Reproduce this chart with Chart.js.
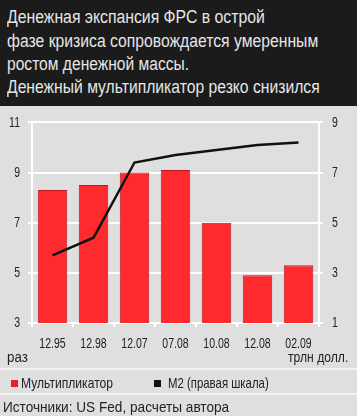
<!DOCTYPE html>
<html><head><meta charset="utf-8">
<script src="https://cdn.jsdelivr.net/npm/chart.js@4"></script>
<style>
html,body{margin:0;padding:0;}
body{width:357px;height:416px;background:#dfdfdf;position:relative;overflow:hidden;font-family:"Liberation Sans",Arial,sans-serif;}
#hdr{position:absolute;left:0;top:0;width:357px;height:106px;background:#1b1b1b;}
.h{position:absolute;left:7px;color:#e6e6e6;font-size:18px;line-height:20px;white-space:nowrap;}
.fit{transform-origin:0 0;}
#cw{position:absolute;left:0;top:105px;width:357px;height:265px;}
.t{position:absolute;color:#222;font-size:14px;line-height:16px;white-space:nowrap;}
.sep{position:absolute;left:0;width:357px;height:2px;background:#f3f3f3;}
.sq{position:absolute;width:7px;height:7px;}
</style></head><body>
<div id="hdr">
<div class="h fit" data-w="258" style="top:7px">Денежная экспансия ФРС в острой</div>
<div class="h fit" data-w="311" style="top:31px">фазе кризиса сопровождается умеренным</div>
<div class="h fit" data-w="182" style="top:54px">ростом денежной массы.</div>
<div class="h fit" data-w="313" style="top:77px">Денежный мультипликатор резко снизился</div>
</div>
<div id="cw"><canvas id="c" width="357" height="265"></canvas></div>
<div class="t fit" data-w="21" style="left:7px;top:349px">раз</div>
<div class="t fit" data-w="60" style="left:288px;top:349px">трлн долл.</div>
<div class="sep" style="top:368px"></div>
<div class="sq" style="left:11px;top:380px;background:#e8202c"></div>
<div class="t fit" data-w="92" style="left:21px;top:374px;font-size:15px;line-height:17px">Мультипликатор</div>
<div class="sq" style="left:154px;top:380px;background:#111"></div>
<div class="t fit" data-w="101" style="left:168px;top:374px;font-size:15px;line-height:17px">M2 (правая шкала)</div>
<div class="sep" style="top:393px"></div>
<div class="t fit" data-w="226" style="left:3px;top:398px;font-size:15px;line-height:17px">Источники: US Fed, расчеты автора</div>
<script>
const categories = ["12.95","12.98","12.07","07.08","10.08","12.08","02.09"];
const multiplier = [8.3, 8.5, 9.0, 9.1, 7.0, 4.9, 5.3];
const m2 = [3.7, 4.4, 7.4, 7.7, 7.9, 8.1, 8.2];
const leftTicks = [3,5,7,9,11];
const rightTicks = [1,3,5,7,9];

document.querySelectorAll('.fit').forEach(el=>{
  const w = el.scrollWidth;
  const target = +el.dataset.w;
  el.style.transform = 'scaleX(' + (target / w) + ')';
});

const FONTSTR = '15px "Liberation Sans", Arial, sans-serif';
const SX = 0.7;
function txt(ctx, s, x, y, align, base){
  ctx.save();
  ctx.font = FONTSTR;
  ctx.fillStyle = '#222';
  ctx.textBaseline = base;
  const w = ctx.measureText(s).width * SX;
  let x0 = x;
  if(align === 'center') x0 = x - w/2;
  else if(align === 'right') x0 = x - w;
  ctx.translate(x0, y);
  ctx.scale(SX, 1);
  ctx.textAlign = 'left';
  ctx.fillText(s, 0, 0);
  ctx.restore();
}
const labelPlugin = {
  id:'labels',
  afterDraw(chart){
    const ctx = chart.ctx, ca = chart.chartArea;
    const xs = chart.scales.x, y1 = chart.scales.y, y2 = chart.scales.y2;
    categories.forEach((c,i)=> txt(ctx, c, xs.getPixelForTick(i), ca.bottom + 25, 'center', 'alphabetic'));
    leftTicks.forEach(v=> txt(ctx, String(v), ca.left - 12, y1.getPixelForValue(v), 'right', 'middle'));
    rightTicks.forEach(v=> txt(ctx, String(v), ca.right + 13, y2.getPixelForValue(v), 'left', 'middle'));
  }
};

new Chart(document.getElementById('c'), {
  data:{
    labels:categories,
    datasets:[
      {type:'line', data:m2, yAxisID:'y2', borderColor:'#111', borderWidth:2.5, pointRadius:0, tension:0, order:0},
      {type:'bar', data:multiplier, yAxisID:'y', backgroundColor:'#ff2a2e', borderColor:'#b8181f', borderWidth:1, barPercentage:0.72, categoryPercentage:1, order:1}
    ]
  },
  plugins:[labelPlugin],
  options:{
    responsive:false, animation:false, devicePixelRatio:1,
    layout:{padding:{top:15,left:0,right:0,bottom:0}},
    plugins:{legend:{display:false}, tooltip:{enabled:false}},
    scales:{
      x:{
        grid:{display:true, drawOnChartArea:false, color:'#ffffff', lineWidth:2, tickLength:4, offset:true},
        border:{display:false},
        ticks:{color:'rgba(0,0,0,0)', font:{size:14}, padding:6, maxRotation:0, autoSkip:false},
        afterFit(s){ s.height = 47; }
      },
      y:{
        position:'left', min:3, max:11,
        afterBuildTicks(s){ s.ticks = leftTicks.map(v=>({value:v})); },
        grid:{color:'#ffffff', lineWidth:2, tickLength:4},
        border:{display:true, color:'#ffffff', width:2},
        ticks:{color:'rgba(0,0,0,0)', font:{size:14}, padding:8},
        afterFit(s){ s.width = 32; }
      },
      y2:{
        position:'right', min:1, max:9,
        afterBuildTicks(s){ s.ticks = rightTicks.map(v=>({value:v})); },
        grid:{display:true, drawOnChartArea:false, color:'#ffffff', lineWidth:2, tickLength:4},
        border:{display:true, color:'#ffffff', width:2},
        ticks:{color:'rgba(0,0,0,0)', font:{size:14}, padding:9},
        afterFit(s){ s.width = 38; }
      }
    }
  }
});
</script>
</body></html>
